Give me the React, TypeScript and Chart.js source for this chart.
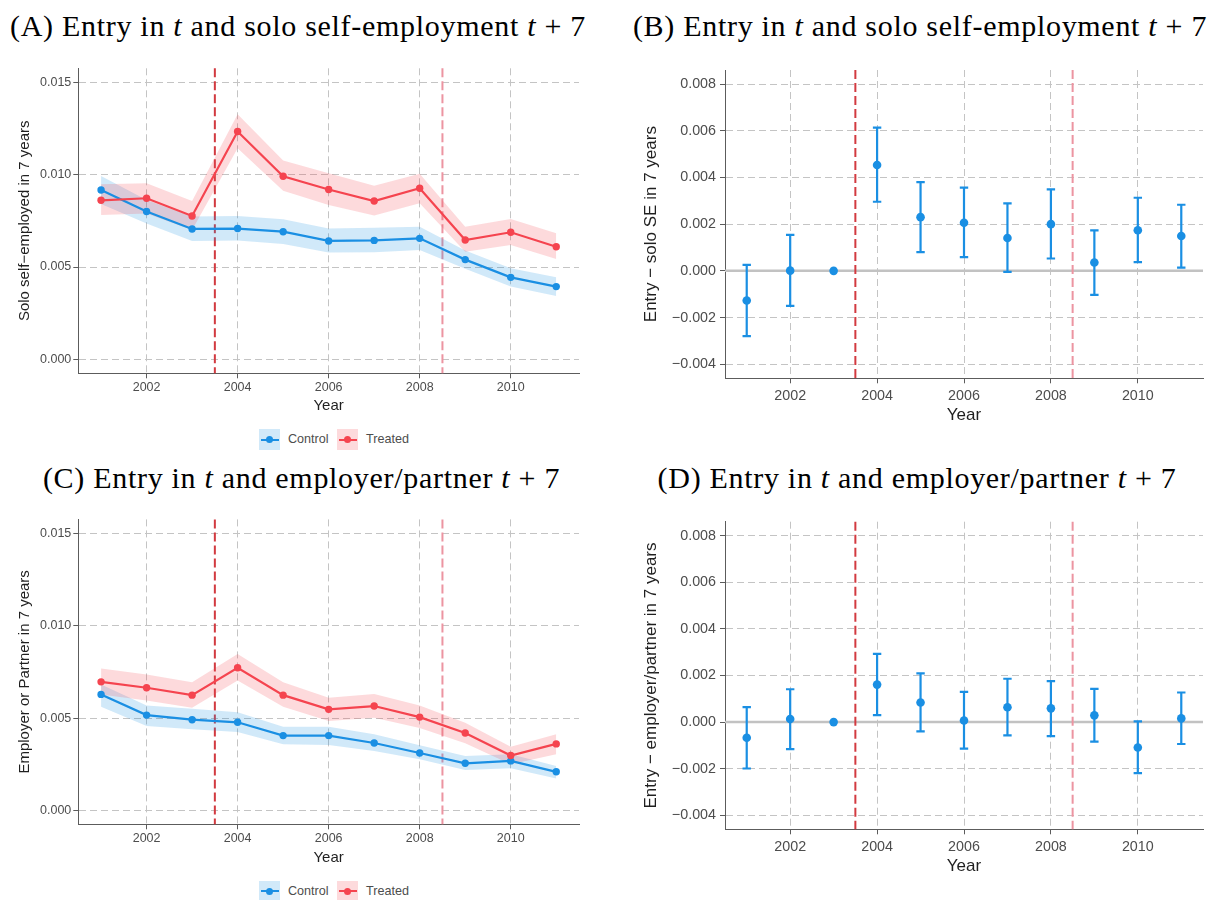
import React, { useEffect, useRef } from "react";
import { Chart, registerables } from "chart.js";

Chart.register(...registerables);

// ---- data ---------------------------------------------------------------
const years = [2001, 2002, 2003, 2004, 2005, 2006, 2007, 2008, 2009, 2010, 2011];
const yearTicks = [2002, 2004, 2006, 2008, 2010];
const policyYears = [2003.5, 2008.5];

// (A) share in solo self-employment 7 years after entry
const soloControl = [0.00917, 0.008, 0.00706, 0.00708, 0.00691, 0.00641, 0.00644, 0.00655, 0.0054, 0.00444, 0.00394];
const soloControlLo = [0.00841, 0.00736, 0.00641, 0.00643, 0.00625, 0.00578, 0.0058, 0.00592, 0.0049, 0.00394, 0.00343];
const soloControlHi = [0.00993, 0.00863, 0.00773, 0.00776, 0.00758, 0.00709, 0.00713, 0.00718, 0.0059, 0.00493, 0.00444];
const soloTreated = [0.00861, 0.00872, 0.00776, 0.01233, 0.00991, 0.00919, 0.00857, 0.00926, 0.00646, 0.00688, 0.0061];
const soloTreatedLo = [0.00782, 0.0079, 0.007, 0.01143, 0.00912, 0.00836, 0.00778, 0.00845, 0.00583, 0.00619, 0.00543];
const soloTreatedHi = [0.00948, 0.00953, 0.00857, 0.01327, 0.01076, 0.01007, 0.00939, 0.01004, 0.00718, 0.0076, 0.00682];

// (B) entry effect on solo self-employment
const soloEffect = [-0.00127, 0.00001, 0, 0.00453, 0.0023, 0.00206, 0.00141, 0.002, 0.00036, 0.00174, 0.00149];
const soloEffectLo = [-0.00279, -0.0015, null, 0.00296, 0.0008, 0.00059, -0.00004, 0.00053, -0.00103, 0.00037, 0.00014];
const soloEffectHi = [0.00026, 0.00154, null, 0.00613, 0.0038, 0.00356, 0.00289, 0.00349, 0.00173, 0.00313, 0.00283];

// (C) share as employer or partner 7 years after entry
const empControl = [0.00628, 0.00516, 0.00491, 0.00477, 0.00405, 0.00405, 0.00365, 0.00311, 0.00255, 0.00268, 0.00209];
const empControlLo = [0.00561, 0.00457, 0.00439, 0.00424, 0.00358, 0.00354, 0.00322, 0.00277, 0.00219, 0.00228, 0.00173];
const empControlHi = [0.00682, 0.00568, 0.0055, 0.00532, 0.00453, 0.00453, 0.00412, 0.00353, 0.00295, 0.00304, 0.00241];
const empTreated = [0.00696, 0.00664, 0.00624, 0.00772, 0.00624, 0.00547, 0.00565, 0.00505, 0.00419, 0.00297, 0.0036];
const empTreatedLo = [0.00628, 0.00595, 0.00556, 0.00703, 0.00561, 0.00484, 0.00502, 0.00446, 0.00363, 0.0025, 0.00304];
const empTreatedHi = [0.00768, 0.00736, 0.00694, 0.00847, 0.00694, 0.0061, 0.0063, 0.00568, 0.00475, 0.00344, 0.00412];

// (D) entry effect on employer / partner status
const empEffect = [-0.00067, 0.00013, 0, 0.00161, 0.00084, 0.00007, 0.00064, 0.00059, 0.00029, -0.00109, 0.00016];
const empEffectLo = [-0.00199, -0.00116, null, 0.0003, -0.0004, -0.00114, -0.00057, -0.0006, -0.00084, -0.00219, -0.00094];
const empEffectHi = [0.00064, 0.00141, null, 0.00293, 0.00209, 0.0013, 0.00186, 0.00176, 0.00143, 0.00003, 0.00127];

const levelTicks = [0, 0.005, 0.01, 0.015];
const effectTicks = [-0.004, -0.002, 0, 0.002, 0.004, 0.006, 0.008];
const groupLabels = ["Control", "Treated"];

// ---- styling ------------------------------------------------------------
const SANS = '"Liberation Sans", Arial, Helvetica, sans-serif';
const SERIF = '"Liberation Serif", "Times New Roman", serif';
const BLUE = "#1A8FE3";
const RED = "#F5444F";
const BLUE_BAND = "rgba(26,143,227,0.2)";
const RED_BAND = "rgba(245,68,79,0.2)";
const GRID = "#c4c4c4";
const AXIS = "#5c5c5c";
const TICK_TEXT = "#4d4d4d";
const TITLE_TEXT = "#1f1f1f";
const POLICY_COLORS = ["#d23a40", "#ec94a1"];

type Geom = {
  canvas: { left: number; top: number; width: number; height: number };
  area: { left: number; right: number; top: number; bottom: number };
  yTitleX: number;
  xTitleY: number;
  titleSize: number;
  tickSize: number;
  tickLen: number;
  tickPad: number;
};

const geomA: Geom = {
  canvas: { left: 0, top: 48, width: 600, height: 372 },
  area: { left: 78.3, right: 579, top: 68.3, bottom: 373.3 },
  yTitleX: 25, xTitleY: 405.7, titleSize: 15, tickSize: 12.5, tickLen: 5, tickPad: 2,
};
const geomB: Geom = {
  canvas: { left: 610, top: 50, width: 605, height: 380 },
  area: { left: 725, right: 1203, top: 70, bottom: 378.3 },
  yTitleX: 651, xTitleY: 415, titleSize: 17, tickSize: 14.3, tickLen: 5, tickPad: 4,
};
const geomC: Geom = {
  canvas: { left: 0, top: 500, width: 600, height: 372 },
  area: { left: 78.3, right: 579, top: 519.4, bottom: 824.3 },
  yTitleX: 25, xTitleY: 857.7, titleSize: 15, tickSize: 12.5, tickLen: 5, tickPad: 2,
};
const geomD: Geom = {
  canvas: { left: 610, top: 500, width: 605, height: 390 },
  area: { left: 725, right: 1203, top: 521.7, bottom: 829.3 },
  yTitleX: 651, xTitleY: 866.7, titleSize: 17, tickSize: 14.3, tickLen: 5, tickPad: 4,
};

const fmtY = (v: number) => (v === 0 ? "0.000" : v.toFixed(3).replace("-", "\u2212"));
const xy = (vals: (number | null)[]) => years.map((x, i) => ({ x, y: vals[i] }));

function axes(g: Geom, yMin: number, yMax: number, yTicks: number[], yTitle: string) {
  const canvasBottom = g.canvas.top + g.canvas.height;
  const lh = g.titleSize * 1.2;
  const tickFont = { family: SANS, size: g.tickSize };
  const titleFont = { family: SANS, size: g.titleSize };
  const grid = { color: GRID, lineWidth: 1, tickLength: g.tickLen, tickColor: AXIS, tickWidth: 1 };
  const border = { display: true, color: AXIS, width: 1, dash: [7, 4] };
  return {
    x: {
      type: "linear",
      min: 2000.5,
      max: 2011.5,
      afterBuildTicks: (s: any) => {
        s.ticks = yearTicks.map((value) => ({ value }));
      },
      afterFit: (s: any) => {
        s.height = canvasBottom - g.area.bottom;
      },
      ticks: {
        font: tickFont, color: TICK_TEXT, padding: g.tickPad,
        autoSkip: false, maxRotation: 0, minRotation: 0,
        callback: (v: number) => String(v),
      },
      grid,
      border,
      title: {
        display: true, text: "Year", font: titleFont, color: TITLE_TEXT,
        padding: { top: 0, bottom: canvasBottom - g.xTitleY - lh / 2 },
      },
    },
    y: {
      type: "linear",
      min: yMin,
      max: yMax,
      afterBuildTicks: (s: any) => {
        s.ticks = yTicks.map((value) => ({ value }));
      },
      afterFit: (s: any) => {
        s.width = g.area.left - g.canvas.left;
      },
      ticks: {
        font: tickFont, color: TICK_TEXT, padding: g.tickPad, autoSkip: false,
        callback: (v: number) => fmtY(v),
      },
      grid,
      border,
      title: {
        display: true, text: yTitle, font: titleFont, color: TITLE_TEXT,
        padding: { top: g.yTitleX - g.canvas.left - lh / 2, bottom: 0 },
      },
    },
  };
}

function layoutFor(g: Geom) {
  return {
    padding: {
      left: 0,
      top: g.area.top - g.canvas.top,
      right: g.canvas.left + g.canvas.width - g.area.right,
      bottom: 0,
    },
  };
}

// dashed vertical reference lines (and optional solid zero line)
function refLinesPlugin(zeroLine: boolean) {
  return {
    id: "refLines",
    beforeDatasetsDraw(chart: any) {
      const { ctx, chartArea, scales } = chart;
      ctx.save();
      if (zeroLine) {
        const y0 = scales.y.getPixelForValue(0);
        ctx.strokeStyle = "#c2c2c2";
        ctx.lineWidth = 2.5;
        ctx.setLineDash([]);
        ctx.beginPath();
        ctx.moveTo(chartArea.left, y0);
        ctx.lineTo(chartArea.right, y0);
        ctx.stroke();
      }
      policyYears.forEach((yr, i) => {
        const px = scales.x.getPixelForValue(yr);
        ctx.strokeStyle = POLICY_COLORS[i];
        ctx.lineWidth = 2;
        ctx.setLineDash([9, 4]);
        ctx.beginPath();
        ctx.moveTo(px, chartArea.top);
        ctx.lineTo(px, chartArea.bottom);
        ctx.stroke();
      });
      ctx.restore();
    },
  };
}

// confidence-interval whiskers for the event-study estimates
function errorBarPlugin(lo: (number | null)[], hi: (number | null)[]) {
  return {
    id: "errorBars",
    beforeDatasetsDraw(chart: any) {
      const { ctx, scales } = chart;
      ctx.save();
      ctx.strokeStyle = BLUE;
      ctx.lineWidth = 2.2;
      ctx.setLineDash([]);
      years.forEach((yr, i) => {
        const l = lo[i];
        const h = hi[i];
        if (l === null || h === null) return;
        const px = scales.x.getPixelForValue(yr);
        const pl = scales.y.getPixelForValue(l);
        const ph = scales.y.getPixelForValue(h);
        ctx.beginPath();
        ctx.moveTo(px, pl);
        ctx.lineTo(px, ph);
        ctx.moveTo(px - 4.2, pl);
        ctx.lineTo(px + 4.2, pl);
        ctx.moveTo(px - 4.2, ph);
        ctx.lineTo(px + 4.2, ph);
        ctx.stroke();
      });
      ctx.restore();
    },
  };
}

function levelConfig(
  g: Geom,
  yTitle: string,
  control: number[], controlLo: number[], controlHi: number[],
  treated: number[], treatedLo: number[], treatedHi: number[]
) {
  const band = (data: number[], color: string, fill: any, order: number) => ({
    data: xy(data),
    borderWidth: 0,
    borderColor: "rgba(0,0,0,0)",
    backgroundColor: color,
    pointRadius: 0,
    fill,
    order,
  });
  const line = (label: string, data: number[], color: string, order: number) => ({
    label,
    data: xy(data),
    borderColor: color,
    backgroundColor: color,
    borderWidth: 2.2,
    pointRadius: 3.7,
    pointBackgroundColor: color,
    pointBorderWidth: 0,
    fill: false,
    order,
  });
  return {
    type: "line",
    data: {
      datasets: [
        band(controlHi, BLUE_BAND, "+1", 4),
        band(controlLo, BLUE_BAND, false, 5),
        band(treatedHi, RED_BAND, "+1", 2),
        band(treatedLo, RED_BAND, false, 3),
        line(groupLabels[0], control, BLUE, 1),
        line(groupLabels[1], treated, RED, 0),
      ],
    },
    options: {
      animation: false,
      responsive: false,
      maintainAspectRatio: false,
      devicePixelRatio: 1,
      events: [],
      layout: layoutFor(g),
      scales: axes(g, -0.00075, 0.01575, levelTicks, yTitle),
      plugins: { legend: { display: false }, tooltip: { enabled: false }, title: { display: false } },
    },
    plugins: [refLinesPlugin(false)],
  };
}

function effectConfig(g: Geom, yTitle: string, est: number[], lo: (number | null)[], hi: (number | null)[]) {
  return {
    type: "line",
    data: {
      datasets: [
        {
          label: "Estimate",
          data: xy(est),
          showLine: false,
          pointRadius: 4.3,
          pointBackgroundColor: BLUE,
          pointBorderWidth: 0,
          borderColor: BLUE,
          backgroundColor: BLUE,
        },
      ],
    },
    options: {
      animation: false,
      responsive: false,
      maintainAspectRatio: false,
      devicePixelRatio: 1,
      events: [],
      layout: layoutFor(g),
      scales: axes(g, -0.0046, 0.0086, effectTicks, yTitle),
      plugins: { legend: { display: false }, tooltip: { enabled: false }, title: { display: false } },
    },
    plugins: [refLinesPlugin(true), errorBarPlugin(lo, hi)],
  };
}

function ChartCanvas({ g, make }: { g: Geom; make: () => any }) {
  const ref = useRef<HTMLCanvasElement>(null);
  useEffect(() => {
    const chart = new Chart(ref.current as HTMLCanvasElement, make());
    return () => chart.destroy();
  }, []);
  return (
    <canvas
      ref={ref}
      width={g.canvas.width}
      height={g.canvas.height}
      style={{
        position: "absolute",
        left: g.canvas.left,
        top: g.canvas.top,
        width: g.canvas.width,
        height: g.canvas.height,
      }}
    />
  );
}

function PanelTitle({ cx, cy, children }: { cx: number; cy: number; children: React.ReactNode }) {
  return (
    <div
      style={{
        position: "absolute",
        left: cx,
        top: cy - 17.5,
        transform: "translateX(-50%)",
        whiteSpace: "nowrap",
        fontFamily: SERIF,
        fontSize: 30,
        lineHeight: "30px",
        letterSpacing: "0.7px",
        color: "#000",
      }}
    >
      {children}
    </div>
  );
}

function LegendKey({ left, top, color, band, label }: { left: number; top: number; color: string; band: string; label: string }) {
  return (
    <div style={{ position: "absolute", left, top, height: 21, display: "flex", alignItems: "center" }}>
      <div style={{ position: "relative", width: 21, height: 21, background: band }}>
        <div style={{ position: "absolute", left: 1.5, right: 1.5, top: 9.5, height: 2, background: color }} />
        <div
          style={{
            position: "absolute", left: 7, top: 7, width: 7, height: 7,
            borderRadius: "50%", background: color,
          }}
        />
      </div>
      <span
        style={{
          marginLeft: 8, fontFamily: SANS, fontSize: 12.6, lineHeight: "21px", color: TICK_TEXT,
        }}
      >
        {label}
      </span>
    </div>
  );
}

function Legend({ top }: { top: number }) {
  return (
    <>
      <LegendKey left={259} top={top} color={BLUE} band={BLUE_BAND} label={groupLabels[0]} />
      <LegendKey left={337} top={top} color={RED} band={RED_BAND} label={groupLabels[1]} />
    </>
  );
}

export default function App() {
  return (
    <div
      style={{
        position: "absolute", left: 0, top: 0, width: 1215, height: 900,
        background: "#fff", overflow: "hidden",
      }}
    >
      <ChartCanvas
        g={geomA}
        make={() =>
          levelConfig(geomA, "Solo self\u2212employed in 7 years",
            soloControl, soloControlLo, soloControlHi, soloTreated, soloTreatedLo, soloTreatedHi)
        }
      />
      <ChartCanvas
        g={geomB}
        make={() => effectConfig(geomB, "Entry \u2212 solo SE in 7 years", soloEffect, soloEffectLo, soloEffectHi)}
      />
      <ChartCanvas
        g={geomC}
        make={() =>
          levelConfig(geomC, "Employer or Partner in 7 years",
            empControl, empControlLo, empControlHi, empTreated, empTreatedLo, empTreatedHi)
        }
      />
      <ChartCanvas
        g={geomD}
        make={() => effectConfig(geomD, "Entry \u2212 employer/partner in 7 years", empEffect, empEffectLo, empEffectHi)}
      />

      <PanelTitle cx={298} cy={28}>
        (A) Entry in <i>t</i> and solo self-employment <i>t</i> + 7
      </PanelTitle>
      <PanelTitle cx={920} cy={28}>
        (B) Entry in <i>t</i> and solo self-employment <i>t</i> + 7
      </PanelTitle>
      <PanelTitle cx={301.5} cy={480}>
        (C) Entry in <i>t</i> and employer/partner <i>t</i> + 7
      </PanelTitle>
      <PanelTitle cx={917} cy={480}>
        (D) Entry in <i>t</i> and employer/partner <i>t</i> + 7
      </PanelTitle>

      <Legend top={429} />
      <Legend top={880.5} />
    </div>
  );
}
